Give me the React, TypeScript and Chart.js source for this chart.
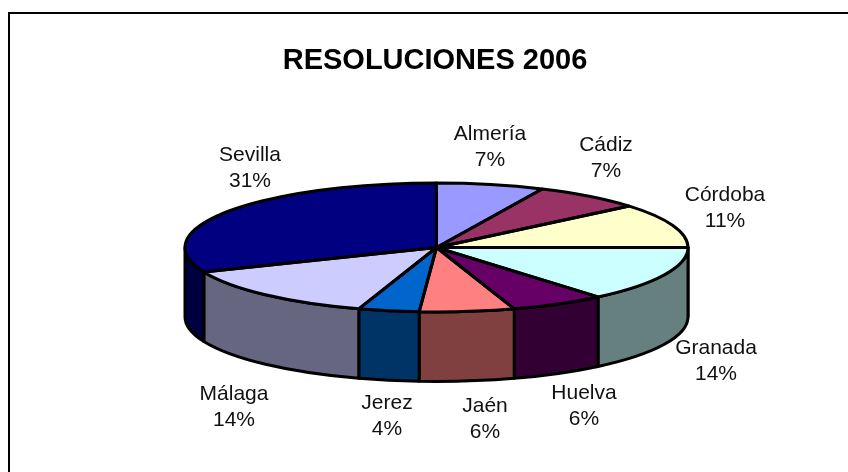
import React, { useEffect, useRef } from "react";
import { Chart, registerables } from "chart.js";

Chart.register(...registerables);

const title = "RESOLUCIONES 2006";
const categories = ["Almería", "Cádiz", "Córdoba", "Granada", "Huelva", "Jaén", "Jerez", "Málaga", "Sevilla"];
const shares = [6.9, 7.0, 11.1, 13.9, 6.1, 6.1, 3.9, 13.8, 31.2];
const topColors = ["#9999FF", "#993366", "#FFFFCC", "#CCFFFF", "#660066", "#FF8080", "#0066CC", "#CCCCFF", "#000080"];
const wallColors = ["#4D4D80", "#4D1A33", "#808066", "#668080", "#330033", "#804040", "#003366", "#666680", "#000040"];

// label layout: centre x and first-line centre y, in page pixels
const labelX = [490, 606, 725, 716, 584, 485, 387, 234, 250];
const labelY = [134, 145, 195, 348, 393, 406, 403, 394, 155];

const RADIUS = 251.5;
const SQUASH = 64.5 / 251.5;
const CENTER_Y = 247.5;
const DEPTH = 69.5;
const LINE = 3;
const FONT = '"Liberation Sans", Arial, sans-serif';

const pie3d = {
  id: "pie3d",
  afterLayout(chart: any) {
    if (chart.titleBlock) {
      chart.titleBlock.left -= 1.5;
      chart.titleBlock.right -= 1.5;
    }
  },
  beforeDraw(chart: any) {
    const { ctx } = chart;
    ctx.save();
    ctx.strokeStyle = "#000";
    ctx.lineWidth = 2;
    ctx.beginPath();
    ctx.moveTo(9, 472);
    ctx.lineTo(9, 13);
    ctx.lineTo(848, 13);
    ctx.stroke();
    ctx.restore();
  },
  beforeDatasetsDraw(chart: any) {
    const { ctx } = chart;
    const arcs = chart.getDatasetMeta(0).data;
    const ry = (r: number) => r * SQUASH;
    ctx.save();
    arcs.forEach((arc: any, i: number) => {
      const { x, startAngle, endAngle, outerRadius: r } = arc.getProps(["x", "startAngle", "endAngle", "outerRadius"]);
      const a0 = Math.max(startAngle, 0);
      const a1 = Math.min(endAngle, Math.PI);
      if (a1 <= a0) return;
      ctx.beginPath();
      ctx.ellipse(x, CENTER_Y, r, ry(r), 0, a0, a1);
      ctx.lineTo(x + r * Math.cos(a1), CENTER_Y + DEPTH + ry(r) * Math.sin(a1));
      ctx.ellipse(x, CENTER_Y + DEPTH, r, ry(r), 0, a1, a0, true);
      ctx.closePath();
      ctx.fillStyle = wallColors[i];
      ctx.fill();
      ctx.strokeStyle = "#000";
      ctx.lineWidth = LINE;
      ctx.lineJoin = "round";
      ctx.stroke();
    });
    ctx.restore();
    // the top face: the library's arcs, squashed into an ellipse
    const { x, y } = arcs[0].getProps(["x", "y"]);
    ctx.save();
    ctx.translate(x, CENTER_Y);
    ctx.scale(1, SQUASH);
    ctx.translate(-x, -y);
  },
  afterDatasetsDraw(chart: any) {
    const { ctx } = chart;
    ctx.restore();
    const arcs = chart.getDatasetMeta(0).data;
    ctx.save();
    ctx.strokeStyle = "#000";
    ctx.lineWidth = LINE;
    ctx.lineJoin = "round";
    arcs.forEach((arc: any) => {
      const { x, startAngle, endAngle, outerRadius: r } = arc.getProps(["x", "startAngle", "endAngle", "outerRadius"]);
      ctx.beginPath();
      ctx.moveTo(x, CENTER_Y);
      ctx.ellipse(x, CENTER_Y, r, r * SQUASH, 0, startAngle, endAngle);
      ctx.closePath();
      ctx.stroke();
    });
    ctx.fillStyle = "#111";
    ctx.font = `21px ${FONT}`;
    ctx.textAlign = "center";
    ctx.textBaseline = "middle";
    const total = shares.reduce((s, v) => s + v, 0);
    categories.forEach((name, i) => {
      ctx.fillText(name, labelX[i], labelY[i]);
      ctx.fillText(`${Math.round((shares[i] / total) * 100)}%`, labelX[i], labelY[i] + 26.5);
    });
    ctx.restore();
  },
};

export default function App() {
  const ref = useRef<HTMLCanvasElement>(null);
  useEffect(() => {
    const chart = new Chart(ref.current!, {
      type: "pie",
      data: {
        labels: categories,
        datasets: [
          {
            data: shares,
            backgroundColor: topColors,
            borderWidth: 0,
            radius: RADIUS,
            clip: false,
          } as any,
        ],
      },
      options: {
        responsive: false,
        animation: false,
        layout: { padding: { left: 25, top: 0, right: 0, bottom: 49 } },
        plugins: {
          legend: { display: false },
          tooltip: { enabled: false },
          title: {
            display: true,
            text: title,
            color: "#000",
            font: { family: FONT, size: 29, weight: "bold", lineHeight: 1 },
            padding: { top: 46, bottom: 0 },
          },
        },
      },
      plugins: [pie3d],
    });
    return () => chart.destroy();
  }, []);
  return (
    <canvas
      ref={ref}
      width={848}
      height={472}
      style={{ position: "absolute", left: 0, top: 0, display: "block", background: "#fff" }}
    />
  );
}
